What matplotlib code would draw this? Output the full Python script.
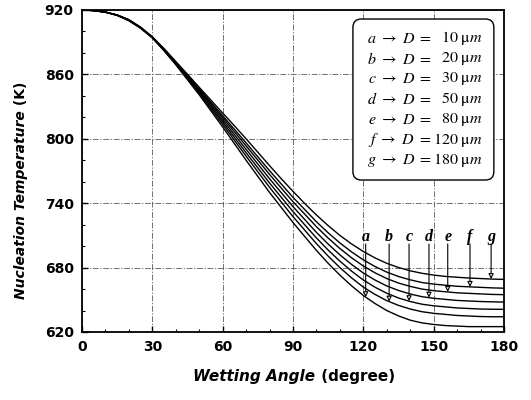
import numpy as np
import matplotlib
matplotlib.use('Agg')
import matplotlib.pyplot as plt
from matplotlib.patches import FancyBboxPatch
from matplotlib.ticker import MultipleLocator

# ---- data ----
angles = [0, 5, 10, 15, 20, 25, 30, 35, 40, 45, 50, 55, 60, 65, 70, 75, 80, 85, 90,
          95, 100, 105, 110, 115, 120, 125, 130, 135, 140, 145, 150, 155, 160, 165, 170, 175, 180]
curve_a = [920, 919.5, 918, 915, 910, 903, 894, 882, 869, 855, 841, 826, 811, 795.5, 780, 765, 750, 736, 722,
           709, 696, 684, 673, 663, 654, 646.5, 640, 635, 631, 628.5, 627, 626, 625.5, 625, 625, 625, 625]
curve_b = [920, 919.5, 918, 915, 910.2, 903.2, 894.2, 882.4, 869.6, 856, 842.3, 827.9, 813.5, 798.6, 783.8, 769.3, 754.8, 741.1, 727.5,
           714.9, 702.3, 690.7, 680, 670.4, 661.8, 655, 649.2, 644.8, 641.4, 638.9, 637.4, 636.4, 635.4, 634.9, 634.4, 634.2, 634.2]
curve_c = [920, 919.5, 918, 915.1, 910.4, 903.4, 894.4, 882.7, 870, 856.8, 843.5, 829.5, 815.6, 801.3, 787, 772.9, 758.8, 745.5, 732.2,
           719.9, 707.6, 696.3, 686, 676.7, 668.4, 661.7, 656.1, 651.7, 648.4, 645.9, 644.4, 643.4, 642.4, 641.9, 641.4, 641.2, 641.1]
curve_d = [920, 919.5, 918, 915.2, 910.5, 903.5, 894.5, 883, 870.5, 857.6, 844.6, 831.1, 817.6, 803.9, 790.2, 776.5, 762.8, 749.8, 736.8,
           724.8, 712.8, 701.9, 691.9, 682.9, 674.9, 668.4, 662.9, 658.7, 655.4, 652.9, 651.4, 650.4, 649.4, 648.9, 648.4, 648.1, 647.9]
curve_e = [920, 919.5, 918, 915.3, 910.7, 903.7, 894.7, 883.3, 871, 858.4, 845.7, 832.7, 819.7, 806.6, 793.4, 780.1, 766.8, 754.1, 741.4,
           729.8, 718.1, 707.5, 697.8, 689.1, 681.5, 675.1, 669.8, 665.6, 662.5, 660, 658.5, 657.5, 656.5, 656, 655.5, 655, 654.8]
curve_f = [920, 919.5, 918, 915.3, 910.8, 903.8, 894.8, 883.6, 871.4, 859, 846.7, 834.1, 821.5, 808.9, 796.2, 783.2, 770.3, 757.9, 745.5,
           734.1, 722.7, 712.4, 703, 694.6, 687.2, 681, 675.8, 671.7, 668.6, 666.1, 664.6, 663.6, 662.6, 662.1, 661.6, 661.1, 660.8]
curve_g = [920, 919.4, 918, 915.4, 911, 904, 895, 884, 872, 860.1, 848, 836, 824, 812.1, 800, 787.5, 775, 762.8, 751,
           739.7, 729, 719.1, 710, 702, 695, 689, 684, 680.1, 677, 674.7, 673, 671.8, 671, 670.3, 669.8, 669.3, 669]
curves = [curve_a, curve_b, curve_c, curve_d, curve_e, curve_f, curve_g]
curve_labels = ['a', 'b', 'c', 'd', 'e', 'f', 'g']
diameters = [10, 20, 30, 50, 80, 120, 180]
arrow_angles = [121, 131, 139.5, 148, 156, 165.5, 174.5]
x_ticks = [0, 30, 60, 90, 120, 150, 180]
y_ticks = [620, 680, 740, 800, 860, 920]

plt.rcParams['font.family'] = ['DejaVu Sans']
plt.rcParams['mathtext.fontset'] = 'stix'

W, H = 531, 400
fig = plt.figure(figsize=(W / 100, H / 100), dpi=100)
ax = fig.add_axes([82 / W, 1 - 332 / H, 422 / W, 322 / H])

for ys in curves:
    ax.plot(angles, ys, color='black', lw=1.0, zorder=3)

ax.set_xlim(0, 180)
ax.set_ylim(620, 920)
ax.set_xticks(x_ticks)
ax.set_yticks(y_ticks)
ax.xaxis.set_minor_locator(MultipleLocator(10))
ax.yaxis.set_minor_locator(MultipleLocator(20))
ax.tick_params(which='major', direction='in', length=4, width=1.0, labelsize=10, pad=6)
ax.tick_params(which='minor', direction='in', length=2.5, width=0.8)
for lab in ax.get_xticklabels() + ax.get_yticklabels():
    lab.set_fontweight('bold')
for sp in ax.spines.values():
    sp.set_linewidth(1.3)
    sp.set_color('black')

ax.grid(True, which='major', color='0.35', lw=0.6, linestyle=(0, (7, 2, 1.5, 2)), zorder=1)

# legend box
box = FancyBboxPatch((0.642, 0.472), 0.976 - 0.642, 0.972 - 0.472,
                     boxstyle='round,pad=0,rounding_size=0.02', mutation_aspect=1.31,
                     transform=ax.transAxes, facecolor='white', edgecolor='black',
                     lw=1.0, zorder=4)
ax.add_patch(box)
for i, (lab, d) in enumerate(zip(curve_labels, diameters)):
    ypix = 38.3 + i * 20.3
    yax = 1 - (ypix - 10) / 322
    ax.text(0.829, yax, r'$%s\ \rightarrow\ D\ =$' % lab, transform=ax.transAxes,
            ha='right', va='center', fontsize=11.5, zorder=5)
    ax.text(0.950, yax, r'$%d\ \mathrm{\mu}m$' % d, transform=ax.transAxes,
            ha='right', va='center', fontsize=11.5, zorder=5)

# curve labels with arrows
for lab, ang, ys in zip(curve_labels, arrow_angles, curves):
    tip = float(np.interp(ang, angles, ys))
    ax.text(ang, 705, lab, ha='center', va='baseline', fontsize=11.5,
            family='Liberation Serif', style='italic', fontweight='bold', zorder=5)
    ax.annotate('', xy=(ang, tip), xytext=(ang, 702),
                arrowprops=dict(arrowstyle='-|>,head_length=0.3,head_width=0.15',
                                color='black', fc='white', lw=0.8, shrinkA=0, shrinkB=0),
                zorder=5)

# axis labels with mixed styles
fig.canvas.draw()
r = fig.canvas.get_renderer()

def two_part(x_c, y_c, p1, p2, rotation=0, size=11):
    t1 = fig.text(0, 0, p1, fontsize=size, fontweight='bold', style='italic',
                  rotation=rotation, ha='left', va='center', transform=None)
    t2 = fig.text(0, 0, p2, fontsize=size, fontweight='bold',
                  rotation=rotation, ha='left', va='center', transform=None)
    b1 = t1.get_window_extent(r)
    b2 = t2.get_window_extent(r)
    if rotation == 0:
        total = b1.width + b2.width
        x0 = x_c - total / 2
        t1.set_position((x0, y_c))
        t2.set_position((x0 + b1.width, y_c))
    else:
        total = b1.height + b2.height
        y0 = y_c - total / 2
        t1.set_ha('center'); t2.set_ha('center')
        t1.set_va('bottom'); t2.set_va('bottom')
        t1.set_position((x_c, y0))
        t2.set_position((x_c, y0 + b1.height))

two_part(294, H - 377, 'Wetting Angle', ' (degree)', size=11)
two_part(21, H - 190, 'Nucleation Temperature', ' (K)', rotation=90, size=10)

fig.savefig('out.png', dpi=100)
